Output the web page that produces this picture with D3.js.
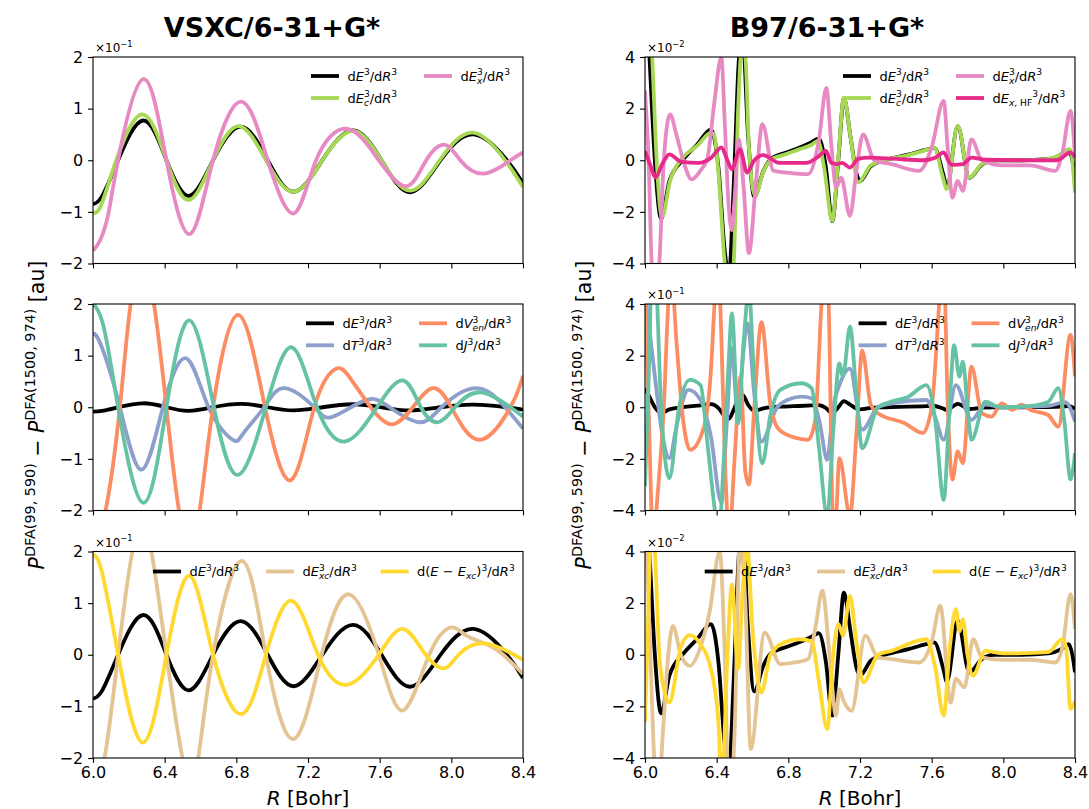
<!DOCTYPE html>
<html><head><meta charset="utf-8">
<script src="https://cdn.jsdelivr.net/npm/d3@7"></script>
<style>body{margin:0;background:#fff} text{font-family:"DejaVu Sans",sans-serif;white-space:pre}</style>
</head><body><svg id="c" width="1089" height="809"></svg>
<script>
const xTicks=[6.0,6.4,6.8,7.2,7.6,8.0,8.4];
const yTicksVSXC=[-2,-1,0,1,2];
const yTicksB97=[-4,-2,0,2,4];
const titles=["VSXC/6-31+G*","B97/6-31+G*"];

// VSXC (values in displayed units of the top/bottom panel: x10^-1; middle: x10^0)
const vsxc_E3=[[6.00,-0.85],[6.05,-0.70],[6.14,0],[6.28,0.77],[6.41,0],[6.535,-0.69],[6.67,0],[6.825,0.65],[6.975,0],[7.12,-0.61],[7.28,0],[7.45,0.58],[7.61,0],[7.77,-0.62],[7.94,0],[8.125,0.50],[8.31,0],[8.40,-0.45]];
const vsxc_Ec=[[6.00,-1.02],[6.045,-0.87],[6.13,0],[6.275,0.89],[6.41,0],[6.535,-0.77],[6.67,0],[6.815,0.66],[6.965,0],[7.12,-0.61],[7.28,0],[7.45,0.57],[7.61,0],[7.77,-0.59],[7.935,0],[8.12,0.535],[8.30,0],[8.40,-0.52]];
const vsxc_Ex=[[6.00,-1.75],[6.04,-1.55],[6.085,-1.05],[6.14,0],[6.28,1.57],[6.41,0],[6.54,-1.43],[6.67,0],[6.83,1.135],[6.975,0],[7.12,-1.03],[7.245,0],[7.42,0.61],[7.595,0],[7.75,-0.50],[7.86,0],[7.965,0.30],[8.05,0],[8.18,-0.26],[8.33,0],[8.40,0.15]];
const vsxc_T=[[6.00,1.43],[6.045,1.2],[6.15,0],[6.27,-1.21],[6.39,0],[6.52,0.95],[6.645,0],[6.78,-0.63],[6.84,-0.50],[6.955,0],[7.07,0.37],[7.235,0],[7.32,-0.20],[7.44,0],[7.555,0.16],[7.655,0],[7.82,-0.29],[7.945,0],[8.14,0.37],[8.30,0],[8.40,-0.41]];
const vsxc_Ven=[[6.00,-2.6],[6.07,-2.0],[6.15,0],[6.21,2.0],[6.275,2.7],[6.34,2.0],[6.41,0],[6.48,-2.0],[6.54,-2.5],[6.595,-2.0],[6.67,0],[6.81,1.79],[6.96,0],[7.105,-1.41],[7.235,0],[7.35,0.735],[7.43,0.59],[7.55,0],[7.67,-0.33],[7.785,0],[7.895,0.37],[8.0,0],[8.155,-0.63],[8.33,0],[8.40,0.61]];
const vsxc_J=[[6.00,2.02],[6.06,1.55],[6.14,0],[6.28,-1.85],[6.41,0],[6.54,1.68],[6.675,0],[6.81,-1.31],[6.965,0],[7.11,1.16],[7.25,0],[7.41,-0.66],[7.585,0],[7.73,0.52],[7.83,0],[7.925,-0.29],[8.02,0],[8.16,0.29],[8.33,0],[8.40,-0.18]];
const vsxc_Exc=[[6.00,-2.45],[6.064,-2.0],[6.14,0],[6.22,2.0],[6.275,2.4],[6.326,2.0],[6.41,0],[6.50,-2.0],[6.545,-2.27],[6.587,-2.0],[6.67,0],[6.83,1.82],[6.965,0],[7.12,-1.63],[7.276,0],[7.43,1.17],[7.595,0],[7.73,-1.08],[7.877,0],[8.0,0.53],[8.08,0.38],[8.2,0.2],[8.29,0],[8.40,-0.37]];
const vsxc_EmExc=[[6.00,1.95],[6.05,1.6],[6.14,0],[6.277,-1.70],[6.41,0],[6.54,1.53],[6.67,0],[6.83,-1.15],[6.965,0],[7.11,1.045],[7.256,0],[7.42,-0.58],[7.595,0],[7.73,0.50],[7.857,0],[7.964,-0.26],[8.04,0],[8.18,0.22],[8.35,0],[8.40,-0.10]];

// B97 (top/bottom x10^-2, middle x10^-1)
const b97_E3=[[6.00,7.4],[6.025,4.0],[6.055,0],[6.09,-2.27],[6.136,-0.81],[6.213,0.03],[6.29,0.6],[6.368,1.19],[6.41,-0.3],[6.445,-3.5],[6.468,-4.5],[6.495,-1.0],[6.525,4.0],[6.545,4.8],[6.575,1.0],[6.61,-1.42],[6.66,-0.43],[6.70,0.03],[6.78,0.28],[6.86,0.48],[6.93,0.70],[6.97,0.84],[7.01,-0.3],[7.045,-2.36],[7.08,0.1],[7.11,2.41],[7.145,1.0],[7.18,-0.5],[7.20,-0.81],[7.26,-0.23],[7.34,0],[7.47,0.22],[7.57,0.41],[7.615,0.48],[7.665,-0.55],[7.685,-1.05],[7.745,1.32],[7.81,-0.68],[7.88,-0.17],[7.95,0],[8.10,0],[8.25,0.05],[8.33,0.25],[8.365,0.41],[8.385,0],[8.40,-0.68]];
const b97_Ec=[[6.00,8.0],[6.04,4.0],[6.065,0],[6.095,-2.2],[6.14,-0.8],[6.21,0.1],[6.29,0.55],[6.37,1.07],[6.385,1.0],[6.41,-0.5],[6.445,-4.0],[6.47,-5.2],[6.495,-4.0],[6.52,2.0],[6.54,4.3],[6.56,4.0],[6.58,0.5],[6.615,-1.38],[6.66,-0.45],[6.70,0],[6.78,0.22],[6.86,0.42],[6.93,0.6],[6.965,0.75],[7.0,-0.3],[7.045,-2.35],[7.08,0.2],[7.11,2.43],[7.145,1.0],[7.19,-0.86],[7.26,-0.2],[7.34,0],[7.47,0.2],[7.58,0.42],[7.615,0.49],[7.66,-0.6],[7.685,-1.12],[7.745,1.33],[7.81,-0.67],[7.88,-0.15],[7.95,0],[8.10,0],[8.25,0.05],[8.34,0.3],[8.37,0.43],[8.40,-1.25]];
const b97_Ex=[[6.00,2.7],[6.02,0],[6.04,-4.5],[6.06,-5.5],[6.08,-4.0],[6.105,0],[6.14,1.78],[6.175,1.0],[6.213,0],[6.26,-0.74],[6.31,-0.4],[6.349,0.1],[6.388,2.3],[6.426,4.0],[6.445,1.5],[6.465,-1.57],[6.485,-2.71],[6.50,-1.5],[6.523,0.8],[6.55,-1.0],[6.58,-3.6],[6.62,-0.8],[6.655,1.4],[6.717,-0.4],[6.795,-0.48],[6.91,-0.54],[6.97,0.75],[7.012,2.8],[7.04,0.6],[7.066,-1.06],[7.095,-0.67],[7.144,-2.15],[7.18,-0.4],[7.217,1.0],[7.28,0],[7.376,-0.15],[7.53,-0.41],[7.60,0.5],[7.667,2.3],[7.69,0.4],[7.716,-1.45],[7.745,-0.8],[7.774,-1.19],[7.822,0.81],[7.88,0],[8.0,-0.2],[8.15,-0.2],[8.29,-0.41],[8.33,0.3],[8.375,1.91],[8.40,0.1]];
const b97_ExHF=[[6.00,0.36],[6.03,-0.2],[6.058,-0.67],[6.10,-0.1],[6.136,0.23],[6.20,-0.05],[6.30,-0.1],[6.37,0.1],[6.426,0.5],[6.46,0.0],[6.485,-0.35],[6.53,0.43],[6.57,-0.48],[6.61,0],[6.66,0.2],[6.75,-0.1],[6.90,-0.1],[6.96,0.1],[7.01,0.36],[7.04,-0.1],[7.07,-0.15],[7.10,-0.1],[7.144,-0.28],[7.19,0.05],[7.25,0.1],[7.40,0.05],[7.55,0.0],[7.62,0.1],[7.667,0.3],[7.70,-0.1],[7.716,-0.18],[7.774,-0.15],[7.822,0.1],[7.90,0.02],[8.10,0],[8.30,0.0],[8.375,0.3],[8.40,0.1]];
const b97_T=[[6.00,4.5],[6.05,1.5],[6.10,-1.2],[6.136,-1.97],[6.18,-0.6],[6.242,0.67],[6.31,0.28],[6.368,-1.14],[6.426,-3.7],[6.455,-0.8],[6.485,2.3],[6.514,0],[6.572,3.25],[6.61,0.5],[6.65,-1.33],[6.737,0],[6.795,0.28],[6.872,0.41],[6.93,0.35],[6.975,-0.6],[7.017,-2.04],[7.05,0],[7.085,0.86],[7.144,1.5],[7.212,-0.87],[7.30,0],[7.376,0.15],[7.57,0.28],[7.62,-0.4],[7.667,-1.26],[7.735,0.86],[7.822,-0.49],[7.90,0.1],[8.0,0],[8.25,0.05],[8.346,0.2],[8.40,-0.55]];
const b97_Ven=[[6.00,4.5],[6.02,0],[6.045,-5.0],[6.075,-3.0],[6.105,0],[6.13,4.0],[6.15,5.0],[6.174,2.7],[6.213,-0.49],[6.252,-1.65],[6.33,-0.75],[6.368,1.44],[6.388,4.0],[6.405,6.0],[6.425,3.0],[6.446,-2.0],[6.47,-5.0],[6.50,-2.0],[6.533,1.19],[6.56,-2.5],[6.58,-3.0],[6.61,0],[6.65,3.3],[6.70,0.1],[6.75,-0.88],[6.85,-1.2],[6.91,-1.26],[6.95,-0.5],[6.985,4.0],[7.005,6.0],[7.025,4.0],[7.047,-4.0],[7.06,-5.0],[7.085,-1.97],[7.144,-4.2],[7.18,-1.0],[7.212,2.2],[7.26,0.1],[7.30,-0.23],[7.45,-0.62],[7.55,-1.0],[7.60,0],[7.647,4.5],[7.665,6.0],[7.69,0],[7.716,-2.8],[7.745,-1.71],[7.774,-2.17],[7.822,1.57],[7.88,-0.23],[7.935,-0.36],[7.99,0.15],[8.05,-0.1],[8.10,0.1],[8.15,-0.1],[8.25,-0.3],[8.307,-0.75],[8.375,2.8],[8.40,1.2]];
const b97_J=[[6.00,-3.07],[6.02,1.0],[6.04,5.5],[6.06,5.0],[6.09,0],[6.136,-2.75],[6.19,0],[6.25,1.06],[6.31,0.86],[6.35,-1.5],[6.39,-4.0],[6.41,-5.0],[6.44,-2.0],[6.465,1.5],[6.485,3.64],[6.52,-0.62],[6.55,2.5],[6.58,4.5],[6.61,1.0],[6.655,-2.17],[6.70,-0.3],[6.755,0.67],[6.872,0.93],[6.93,0.74],[6.97,-1.5],[7.017,-4.2],[7.05,-1.0],[7.085,1.7],[7.105,1.19],[7.144,3.12],[7.18,0.5],[7.212,-1.59],[7.30,0],[7.376,0.22],[7.47,0.41],[7.57,0.86],[7.62,-0.5],[7.667,-3.59],[7.70,0.0],[7.725,2.41],[7.755,1.19],[7.774,1.77],[7.80,0.0],[7.822,-1.26],[7.90,0.22],[7.98,0],[8.15,0.05],[8.25,0.2],[8.307,0.74],[8.34,-0.5],[8.375,-2.8],[8.40,-1.78]];
const b97_Exc=[[6.00,6.0],[6.03,0],[6.055,-4.5],[6.075,-5.5],[6.10,-3.0],[6.13,0],[6.155,1.12],[6.20,0],[6.25,-0.43],[6.31,0.3],[6.36,1.64],[6.417,4.0],[6.445,0],[6.47,-6.0],[6.50,-3.0],[6.53,4.5],[6.56,2.0],[6.59,-3.65],[6.668,0.86],[6.756,-0.36],[6.834,-0.3],[6.91,-0.17],[6.95,1.0],[6.99,2.48],[7.03,0],[7.066,-2.36],[7.085,-1.33],[7.105,-1.72],[7.153,-2.17],[7.23,0.74],[7.30,-0.1],[7.376,-0.17],[7.53,-0.3],[7.60,0.5],[7.648,1.9],[7.706,-1.85],[7.735,-0.94],[7.783,-1.26],[7.832,0.6],[7.88,-0.1],[8.0,-0.2],[8.15,-0.2],[8.29,-0.3],[8.33,0.3],[8.375,2.35],[8.40,1.0]];
const b97_EmExc=[[6.00,-2.6],[6.02,2.0],[6.035,5.0],[6.055,4.0],[6.08,0],[6.105,-1.3],[6.136,-1.85],[6.20,0.3],[6.25,0.76],[6.31,0.4],[6.368,-0.55],[6.407,-2.36],[6.43,-5.0],[6.46,0],[6.485,2.73],[6.52,-0.55],[6.545,2.5],[6.57,4.2],[6.60,1.0],[6.65,-1.46],[6.70,0],[6.78,0.48],[6.86,0.6],[6.93,0.52],[6.97,-1.0],[7.017,-2.88],[7.05,0],[7.08,1.19],[7.105,0.74],[7.144,2.28],[7.18,0.5],[7.22,-1.07],[7.30,0],[7.376,0.15],[7.57,0.6],[7.62,-0.5],[7.667,-2.36],[7.70,0.2],[7.735,1.77],[7.755,0.9],[7.774,1.38],[7.80,0],[7.83,-0.81],[7.90,0.15],[8.0,0.05],[8.25,0.1],[8.33,0.6],[8.35,0.3],[8.375,-2.1],[8.40,-1.8]];

const C={k:"#000000",g:"#a6d854",p:"#e78ac3",hf:"#e7298a",b:"#8da0cb",o:"#fc8d62",t:"#66c2a5",tan:"#e5c494",y:"#ffd92f"};
const LBL={
 E3:[{t:"d"},{t:"E",i:1},{sup:"3"},{t:"/d"},{t:"R",i:1},{sup:"3"}],
 Ec:[{t:"d"},{t:"E",i:1},{sup:"3",sub:[["c",1]]},{t:"/d"},{t:"R",i:1},{sup:"3"}],
 Ex:[{t:"d"},{t:"E",i:1},{sup:"3",sub:[["x",1]]},{t:"/d"},{t:"R",i:1},{sup:"3"}],
 HF:[{t:"d"},{t:"E",i:1},{sub:[["x",1],[", HF",0]]},{sup:"3"},{t:"/d"},{t:"R",i:1},{sup:"3"}],
 T:[{t:"d"},{t:"T",i:1},{sup:"3"},{t:"/d"},{t:"R",i:1},{sup:"3"}],
 Ven:[{t:"d"},{t:"V",i:1},{sup:"3",sub:[["en",1]]},{t:"/d"},{t:"R",i:1},{sup:"3"}],
 J:[{t:"d"},{t:"J",i:1},{sup:"3"},{t:"/d"},{t:"R",i:1},{sup:"3"}],
 Exc:[{t:"d"},{t:"E",i:1},{sup:"3",sub:[["xc",1]]},{t:"/d"},{t:"R",i:1},{sup:"3"}],
 EmExc:[{t:"d("},{t:"E",i:1},{t:" − "},{t:"E",i:1},{sub:[["xc",1]]},{t:")"},{sup:"3"},{t:"/d"},{t:"R",i:1},{sup:"3"}]
};

const colX=[93,645], W=430, rowY=[57,304,551.5], H=206.5;
const panels=[
 {c:0,r:0,dom:[-2,2],ticks:yTicksVSXC,off:"−1",curve:d3.curveNatural,
  s:[[vsxc_E3,1,C.k,"E3",218,19],[vsxc_Ec,1,C.g,"Ec",218,41],[vsxc_Ex,1,C.p,"Ex",331,19]]},
 {c:0,r:1,dom:[-2,2],ticks:yTicksVSXC,off:null,curve:d3.curveNatural,
  s:[[vsxc_E3,0.1,C.k,"E3",213,19.3],[vsxc_T,1,C.b,"T",213,41.3],[vsxc_Ven,1,C.o,"Ven",326,19.3],[vsxc_J,1,C.t,"J",326,41.3]]},
 {c:0,r:2,dom:[-2,2],ticks:yTicksVSXC,off:"−1",curve:d3.curveNatural,
  s:[[vsxc_E3,1,C.k,"E3",60,20],[vsxc_Exc,1,C.tan,"Exc",173,20],[vsxc_EmExc,1,C.y,"EmExc",287.6,20]]},
 {c:1,r:0,dom:[-4,4],ticks:yTicksB97,off:"−2",curve:d3.curveMonotoneX,
  s:[[b97_E3,1,C.k,"E3",198,19],[b97_Ec,1,C.g,"Ec",198,41],[b97_Ex,1,C.p,"Ex",311,19],[b97_ExHF,1,C.hf,"HF",311,41]]},
 {c:1,r:1,dom:[-4,4],ticks:yTicksB97,off:"−1",curve:d3.curveMonotoneX,
  s:[[b97_E3,0.1,C.k,"E3",213.6,19.3],[b97_T,1,C.b,"T",213.6,41.3],[b97_Ven,1,C.o,"Ven",326.5,19.3],[b97_J,1,C.t,"J",326.5,41.3]]},
 {c:1,r:2,dom:[-4,4],ticks:yTicksB97,off:"−2",curve:d3.curveMonotoneX,
  s:[[b97_E3,1,C.k,"E3",59.7,20],[b97_Exc,1,C.tan,"Exc",172,20],[b97_EmExc,1,C.y,"EmExc",287.6,20]]}
];

const svg=d3.select("#c");
function rich(g,segs,fs){
  let x=0;
  const put=(txt,it,size,dy)=>{const t=g.append("text").attr("x",x).attr("y",dy).attr("font-size",size)
    .attr("font-style",it?"italic":"normal").attr("fill","#000").text(txt);return t.node().getComputedTextLength();};
  for(const s of segs){
    if(s.t!=null){x+=put(s.t,s.i,fs,0);}
    else{const x0=x;let w1=0,w2=0;
      if(s.sup){x=x0;w1=put(s.sup,false,fs*0.7,-fs*0.42);}
      if(s.sub){let xx=x0;for(const [tt,ii] of s.sub){x=xx;xx+=put(tt,ii,fs*0.7,fs*0.22);}w2=xx-x0;}
      x=x0+Math.max(w1,w2);}
  }
  return x;
}

panels.forEach((P,pi)=>{
  const x0=colX[P.c], y0=rowY[P.r];
  const x=d3.scaleLinear().domain([6.0,8.4]).range([x0,x0+W]);
  const y=d3.scaleLinear().domain(P.dom).range([y0+H,y0]);
  const cid="clip"+pi;
  svg.append("clipPath").attr("id",cid).append("rect").attr("x",x0).attr("y",y0).attr("width",W).attr("height",H);
  const gl=svg.append("g").attr("clip-path","url(#"+cid+")");
  P.s.forEach(([data,f,col])=>{
    const line=d3.line().x(d=>x(d[0])).y(d=>y(d[1]*f)).curve(P.curve);
    gl.append("path").attr("d",line(data)).attr("fill","none").attr("stroke",col)
      .attr("stroke-width",3.8).attr("stroke-linejoin","round").attr("stroke-linecap","butt");
  });
  const ax=svg.append("g").attr("transform",`translate(0,${y0+H})`)
    .call(d3.axisBottom(x).tickValues(xTicks).tickSize(4.9).tickPadding(4.2).tickFormat(P.r===2?d3.format(".1f"):()=>""));
  const ay=svg.append("g").attr("transform",`translate(${x0},0)`)
    .call(d3.axisLeft(y).tickValues(P.ticks).tickSize(4.9).tickPadding(4.9).tickFormat(d3.format("d")));
  [ax,ay].forEach(a=>{a.select(".domain").remove();a.selectAll("line").attr("stroke","#000").attr("stroke-width",1.1);
    a.selectAll("text").attr("font-size",16).attr("fill","#000").style("font-family","DejaVu Sans");});
  svg.append("rect").attr("x",x0).attr("y",y0).attr("width",W).attr("height",H)
    .attr("fill","none").attr("stroke","#000").attr("stroke-width",1.1);
  if(P.off){const g=svg.append("g").attr("transform",`translate(${x0+2},${y0-5})`);
    rich(g,[{t:"×10"},{sup:P.off}],12);}
  P.s.forEach(([data,f,col,lab,lx,ly])=>{
    svg.append("line").attr("x1",x0+lx).attr("x2",x0+lx+28).attr("y1",y0+ly).attr("y2",y0+ly)
      .attr("stroke",col).attr("stroke-width",3.8);
    const g=svg.append("g").attr("transform",`translate(${x0+lx+36.4},${y0+ly+4.7})`);
    rich(g,LBL[lab],13);
  });
});

titles.forEach((t,i)=>{
  svg.append("text").attr("x",[272,827][i]).attr("y",37).attr("text-anchor","middle")
    .attr("font-size",27).attr("font-weight","bold").attr("fill","#000").text(t);
});
[0,1].forEach(c=>{
  const g=svg.append("g");
  const w=rich(g,[{t:"R",i:1},{t:" [Bohr]"}],20);
  g.attr("transform",`translate(${colX[c]+W/2-w/2},805)`);
});
[44,591].forEach(bx=>{
  const g=svg.append("g");
  const w=rich(g,[{t:"P",i:1},{sup:"DFA(99, 590)"},{t:" − "},{t:"P",i:1},{sup:"DFA(1500, 974)"},{t:" [au]"}],20.5);
  g.attr("transform",`translate(${bx},415) rotate(-90) translate(${-w/2},0)`);
});
</script></body></html>
